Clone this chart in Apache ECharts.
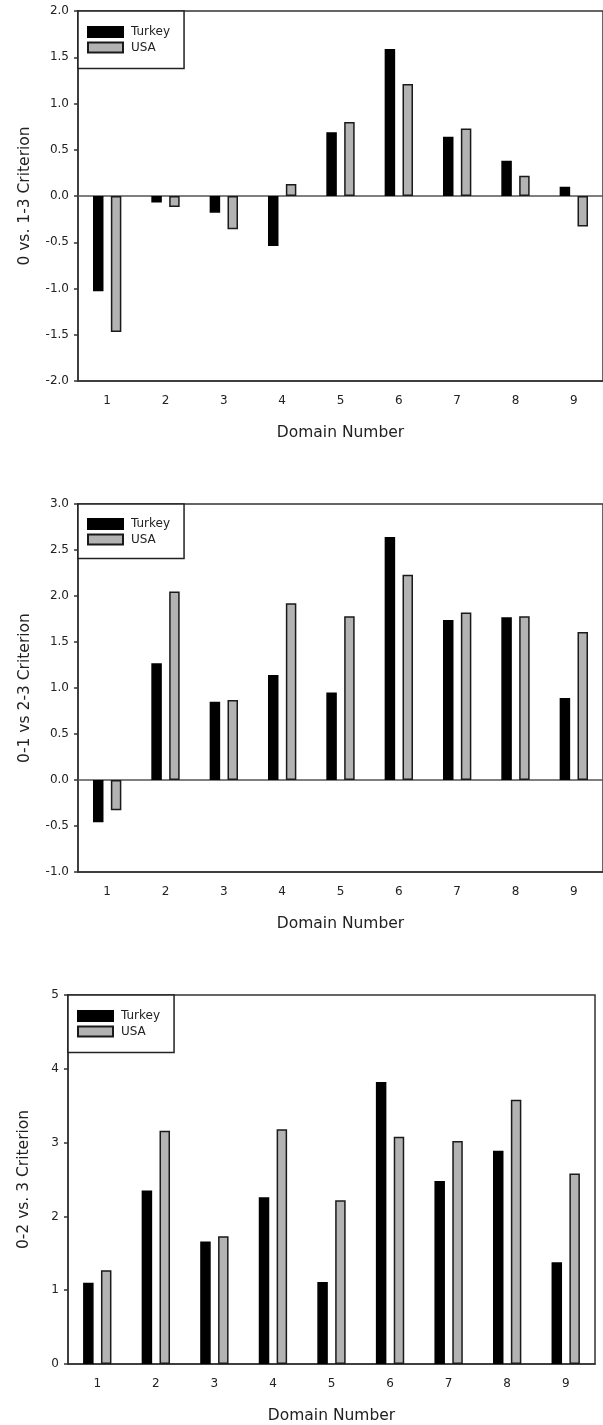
<!DOCTYPE html>
<html>
<head>
<meta charset="utf-8">
<script src="https://cdn.jsdelivr.net/npm/echarts@6/dist/echarts.min.js"></script>
<style>
html,body{margin:0;padding:0;background:#fff;}
#chart{width:603px;height:1425px;}
</style>
</head>
<body>
<div id="chart"></div>
<script>
var domains = ['1','2','3','4','5','6','7','8','9'];
var seriesNames = ['Turkey','USA'];
var p1Turkey = [-1.03, -0.07, -0.18, -0.54, 0.69, 1.59, 0.64, 0.38, 0.10];
var p1USA    = [-1.47, -0.12, -0.36, 0.13, 0.80, 1.21, 0.73, 0.22, -0.33];
var p2Turkey = [-0.46, 1.27, 0.85, 1.14, 0.95, 2.64, 1.74, 1.77, 0.89];
var p2USA    = [-0.33, 2.05, 0.87, 1.92, 1.78, 2.23, 1.82, 1.78, 1.61];
var p3Turkey = [1.10, 2.35, 1.66, 2.26, 1.11, 3.82, 2.48, 2.89, 1.38];
var p3USA    = [1.27, 3.16, 1.73, 3.18, 2.22, 3.08, 3.02, 3.58, 2.58];
var yTitles = ['0 vs. 1-3 Criterion', '0-1 vs 2-3 Criterion', '0-2 vs. 3 Criterion'];
var xTitle = 'Domain Number';

var FONT = 'DejaVu Sans';
var INK = '#222';
var AX = '#333';

var grids = [
  {left: 78, top: 11, width: 527, height: 370},
  {left: 78, top: 504, width: 527, height: 368},
  {left: 68, top: 995, width: 527, height: 370}
];
var yRanges = [
  {min: -2, max: 2, interval: 0.5, dec: 1, gap: 45},
  {min: -1, max: 3, interval: 0.5, dec: 1, gap: 45},
  {min: 0, max: 5, interval: 1, dec: 0, gap: 36}
];
var legendPads = [[15, 14, 15, 9], [14, 14, 13, 9], [15, 14, 15, 9]];
var panels = [[p1Turkey, p1USA], [p2Turkey, p2USA], [p3Turkey, p3USA]];

var option = {
  backgroundColor: '#fff',
  animation: false,
  textStyle: {fontFamily: FONT},
  grid: grids.map(function(g){
    return {left: g.left, top: g.top, width: g.width, height: g.height,
      show: true, borderColor: AX, borderWidth: 1.5, backgroundColor: 'transparent'};
  }),
  legend: grids.map(function(g, i){
    return {
      data: seriesNames, orient: 'vertical', left: g.left, top: g.top,
      padding: legendPads[i], itemGap: 3.5, itemWidth: 35, itemHeight: 10,
      borderColor: INK, borderWidth: 1.5, backgroundColor: '#fff',
      icon: 'rect', selectedMode: false,
      textStyle: {fontFamily: FONT, fontSize: 12, color: INK, padding: [0,0,0,3]}
    };
  }),
  xAxis: grids.map(function(g, i){
    return {
      type: 'category', gridIndex: i, data: domains, boundaryGap: true,
      name: xTitle, nameLocation: 'middle', nameGap: 44,
      nameTextStyle: {fontFamily: FONT, fontSize: 15.5, color: INK},
      axisLine: {onZero: false, lineStyle: {color: AX, width: 1.5}},
      axisTick: {alignWithLabel: true, length: 5, lineStyle: {color: AX, width: 1.5}},
      axisLabel: {fontFamily: FONT, fontSize: 12, color: INK, margin: 14},
      splitLine: {show: false}
    };
  }),
  yAxis: yRanges.map(function(r, i){
    return {
      type: 'value', gridIndex: i, min: r.min, max: r.max, interval: r.interval,
      name: yTitles[i], nameLocation: 'middle', nameGap: r.gap, nameRotate: 90,
      nameTextStyle: {fontFamily: FONT, fontSize: 15.5, color: INK},
      axisLine: {show: true, onZero: false, lineStyle: {color: AX, width: 1.5}},
      axisTick: {show: true, length: 4, lineStyle: {color: AX, width: 1.5}},
      axisLabel: {fontFamily: FONT, fontSize: 12, color: INK, margin: 9,
        formatter: function(v){ return v.toFixed(r.dec); }},
      splitLine: {show: false}
    };
  }),
  series: []
};

panels.forEach(function(p, i){
  option.series.push({
    name: 'Turkey', type: 'bar', xAxisIndex: i, yAxisIndex: i, data: p[0],
    barWidth: 10.5, barGap: '70%',
    itemStyle: {color: '#000', borderColor: '#000', borderWidth: 1.5},
    markLine: i < 2 ? {
      silent: true, symbol: ['none','none'], label: {show: false},
      lineStyle: {color: '#555', width: 1.5, type: 'solid'},
      data: [{yAxis: 0}], z: 1
    } : undefined
  });
  option.series.push({
    name: 'USA', type: 'bar', xAxisIndex: i, yAxisIndex: i, data: p[1],
    barWidth: 10.5, barGap: '70%',
    itemStyle: {color: '#b3b3b3', borderColor: '#1a1a1a', borderWidth: 1.5}
  });
});

var chart = echarts.init(document.getElementById('chart'), null, {renderer: 'canvas'});
chart.setOption(option);
</script>
</body>
</html>
